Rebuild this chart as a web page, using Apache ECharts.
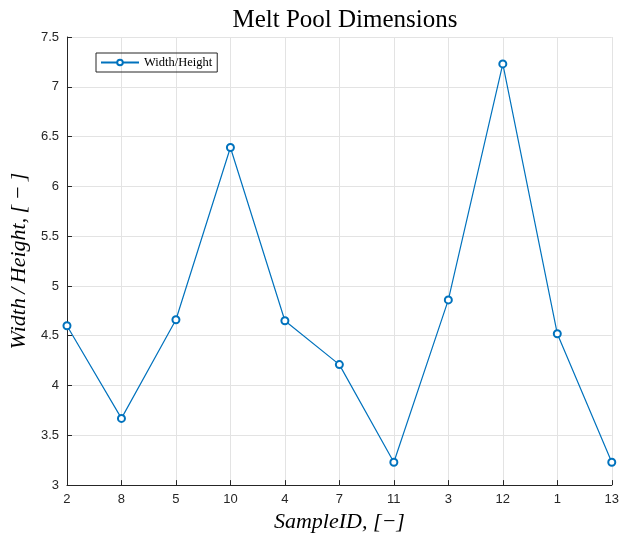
<!DOCTYPE html>
<html>
<head>
<meta charset="utf-8">
<script src="https://cdn.jsdelivr.net/npm/echarts@6/dist/echarts.min.js"></script>
<style>
  html, body { margin: 0; padding: 0; background: #fff; }
  #main { width: 622px; height: 538px; }
</style>
</head>
<body>
<div id="main"></div>
<script>
// sample order as plotted
const sampleIds = ['2', '8', '5', '10', '4', '7', '11', '3', '12', '1', '13']
// width / height ratio per sample
const ratios = [4.6, 3.67, 4.66, 6.39, 4.65, 4.21, 3.23, 4.86, 7.23, 4.52, 3.23]
const yTicks = [3, 3.5, 4, 4.5, 5, 5.5, 6, 6.5, 7, 7.5]

const blue = '#0072BD'
const axisColor = '#262626'
const serif = '"Liberation Serif", "DejaVu Serif", serif'
const sans = '"Liberation Sans", Arial, sans-serif'

const chart = echarts.init(document.getElementById('main'))

chart.setOption({
  animation: false,
  backgroundColor: '#fff',
  title: {
    text: 'Melt Pool Dimensions',
    left: 340,
    textAlign: 'center',
    top: 3,
    textStyle: { fontFamily: serif, fontSize: 25, fontWeight: 'normal', color: '#000' }
  },
  legend: {
    data: ['Width/Height'],
    left: 96,
    top: 53,
    orient: 'vertical',
    borderColor: '#262626',
    borderWidth: 1,
    padding: [3, 5, 3, 4],
    itemWidth: 38,
    itemHeight: 7,
    itemGap: 4,
    textStyle: { fontFamily: serif, fontSize: 12.5, color: '#000' }
  },
  grid: { left: 66, right: 7, top: 37, bottom: 45, containLabel: false },
  xAxis: {
    type: 'category',
    data: sampleIds,
    boundaryGap: false,
    name: 'SampleID, [\u2212]',
    nameLocation: 'middle',
    nameGap: 25,
    nameTextStyle: { fontFamily: serif, fontStyle: 'italic', fontSize: 22, color: '#000' },
    axisLine: { lineStyle: { color: axisColor, width: 1 } },
    axisTick: { show: true, inside: true, length: 5, alignWithLabel: true, lineStyle: { color: axisColor } },
    axisLabel: { fontFamily: sans, fontSize: 13, color: axisColor, margin: 8, interval: 0 },
    splitLine: { show: true, lineStyle: { color: '#e3e3e3', width: 1 } }
  },
  yAxis: {
    type: 'value',
    min: 3,
    max: 7.5,
    interval: 0.5,
    name: 'Width\u2009/\u2009Height,\u2009[\u2009\u2212\u2009]',
    nameLocation: 'middle',
    nameGap: 34,
    nameRotate: 90,
    nameTextStyle: { fontFamily: serif, fontStyle: 'italic', fontSize: 22, color: '#000' },
    axisLine: { show: true, lineStyle: { color: axisColor, width: 1 } },
    axisTick: { show: true, inside: true, length: 5, lineStyle: { color: axisColor } },
    axisLabel: {
      fontFamily: sans,
      fontSize: 13,
      color: axisColor,
      margin: 8,
      formatter: v => (yTicks.indexOf(v) >= 0 ? String(v) : '')
    },
    splitLine: { show: true, lineStyle: { color: '#e3e3e3', width: 1 } }
  },
  series: [
    {
      name: 'Width/Height',
      type: 'line',
      data: ratios,
      symbol: 'emptyCircle',
      symbolSize: 7,
      showAllSymbol: true,
      lineStyle: { color: blue, width: 1.2 },
      itemStyle: { color: blue, borderColor: blue, borderWidth: 1 }
    }
  ]
})
</script>
</body>
</html>
